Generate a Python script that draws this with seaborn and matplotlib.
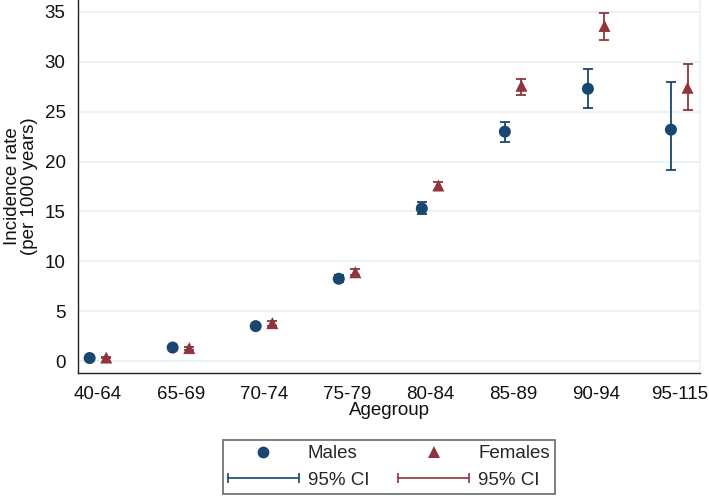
import numpy as np
import pandas as pd
import matplotlib
matplotlib.use("Agg")
import matplotlib.pyplot as plt
import seaborn as sns
from matplotlib.lines import Line2D
from matplotlib.legend_handler import HandlerLine2D

agegroups = ['40-64', '65-69', '70-74', '75-79', '80-84', '85-89', '90-94', '95-115']
male_rate = [0.3, 1.35, 3.5, 8.25, 15.3, 23.0, 27.3, 23.2]
male_lo = [0.25, 1.2, 3.3, 7.9, 14.7, 22.0, 25.4, 19.2]
male_hi = [0.35, 1.5, 3.7, 8.6, 15.9, 24.0, 29.25, 27.95]
female_rate = [0.35, 1.3, 3.8, 8.9, 17.6, 27.6, 33.6, 27.4]
female_lo = [0.3, 1.15, 3.55, 8.6, 17.1, 26.7, 32.2, 25.2]
female_hi = [0.4, 1.45, 4.05, 9.2, 18.0, 28.25, 34.9, 29.75]
yticks = [0, 5, 10, 15, 20, 25, 30, 35]

NAVY = '#1a476f'
MAROON = '#90353b'
GRID = '#eaf2f3'
FS = 13.5

sns.set_theme(style='white')
plt.rcParams['font.family'] = ['Liberation Sans', 'DejaVu Sans']

idx = np.arange(len(agegroups))
off = 0.1
df = pd.concat([
    pd.DataFrame({'pos': idx - off, 'rate': male_rate, 'lo': male_lo, 'hi': male_hi, 'sex': 'Males'}),
    pd.DataFrame({'pos': idx + off, 'rate': female_rate, 'lo': female_lo, 'hi': female_hi, 'sex': 'Females'}),
], ignore_index=True)

fig = plt.figure(figsize=(7.09, 4.96), dpi=100)
ax = fig.add_axes([78 / 709, 123 / 496, 622 / 709, 373 / 496])

for sex, col in [('Males', NAVY), ('Females', MAROON)]:
    d = df[df.sex == sex]
    ax.errorbar(d.pos, d.rate, yerr=[d.rate - d.lo, d.hi - d.rate], fmt='none',
                ecolor=col, elinewidth=1.3, capsize=3.6, capthick=1.3, zorder=2)

sns.scatterplot(data=df, x='pos', y='rate', hue='sex', style='sex',
                palette={'Males': NAVY, 'Females': MAROON},
                markers={'Males': 'o', 'Females': '^'}, s=75, linewidth=0,
                legend=False, ax=ax, zorder=3)

ax.set_xlim(-0.24, 7.25)
ax.set_ylim(-1.2, 36.2)
ax.set_yticks(yticks)
ax.set_xticks(idx)
ax.set_xticklabels(agegroups)
ax.yaxis.grid(True, color=GRID, linewidth=1.5)
ax.xaxis.grid(False)
ax.set_axisbelow(True)
ax.spines['top'].set_visible(False)
ax.spines['right'].set_color(GRID)
ax.spines['right'].set_linewidth(1.2)
for s in ['left', 'bottom']:
    ax.spines[s].set_color('#222222')
    ax.spines[s].set_linewidth(1.0)
ax.tick_params(axis='both', which='both', direction='out', width=1,
               color='#222222', labelsize=FS, labelcolor='#111111')
ax.tick_params(axis='y', length=5.5, pad=3.5)
ax.tick_params(axis='x', length=6.5, pad=3)
ax.set_xlabel('Agegroup', fontsize=FS, color='#111111', labelpad=-1)
ax.set_ylabel('Incidence rate\n(per 1000 years)', fontsize=FS, color='#111111',
              labelpad=5, linespacing=1.0)

h_m = Line2D([], [], linestyle='none', marker='o', color=NAVY, markersize=8.5, markeredgewidth=0)
h_f = Line2D([], [], linestyle='none', marker='^', color=MAROON, markersize=8.5, markeredgewidth=0)
ci_m = Line2D([], [], color=NAVY, linewidth=1.2, marker='|', markersize=7, markeredgewidth=1.2)
ci_f = Line2D([], [], color=MAROON, linewidth=1.2, marker='|', markersize=7, markeredgewidth=1.2)
leg = fig.legend([h_m, ci_m, h_f, ci_f], ['Males', '95% CI', 'Females', '95% CI'],
                 ncol=2, loc='center', bbox_to_anchor=(389 / 709, 1 - 467 / 496),
                 fontsize=FS, frameon=True, fancybox=False, edgecolor='#444444',
                 handlelength=3.75, handletextpad=0.5, columnspacing=1.55,
                 labelspacing=0.5, borderpad=0.3, borderaxespad=0,
                 handler_map={ci_m: HandlerLine2D(numpoints=2, marker_pad=0),
                              ci_f: HandlerLine2D(numpoints=2, marker_pad=0),
                              h_m: HandlerLine2D(numpoints=1),
                              h_f: HandlerLine2D(numpoints=1)})
leg.get_frame().set_linewidth(1.2)

fig.savefig('out.png', dpi=100)
